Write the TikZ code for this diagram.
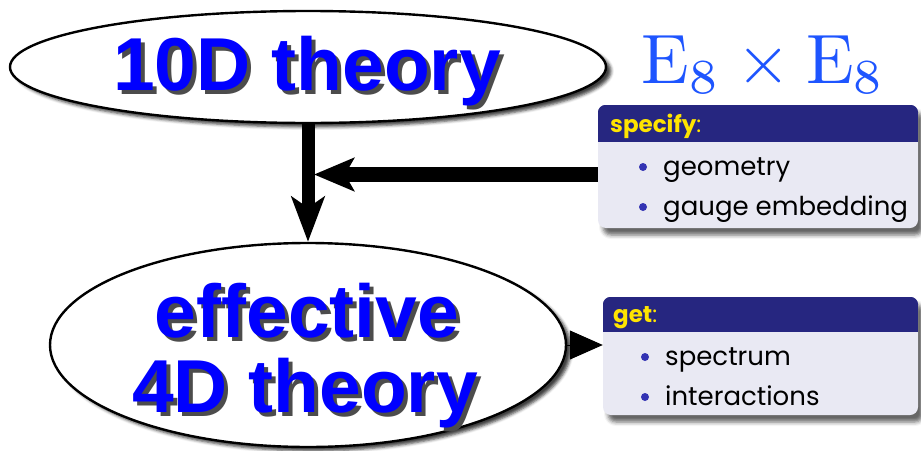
\documentclass[tikz,border=0pt]{standalone}
\usepackage{fontspec}
\newfontfamily\bigfont{Liberation Sans}
\newfontfamily\boxfont{Poppins}
\usetikzlibrary{shapes.geometric,arrows.meta,shadows.blur}
\definecolor{bigblue}{RGB}{0,0,255}
\definecolor{eblue}{RGB}{30,85,255}
\definecolor{headbg}{RGB}{38,38,128}
\definecolor{bodybg}{RGB}{233,233,243}
\definecolor{titley}{RGB}{255,228,0}
\definecolor{bullblue}{RGB}{51,51,179}
\tikzset{
  bubble/.style={ellipse,draw=black,line width=2.4pt,fill=white,inner sep=0pt,
    blur shadow={shadow xshift=5pt,shadow yshift=-4pt,shadow blur radius=3pt,shadow opacity=75}},
  bigtext/.style={anchor=base,inner sep=0pt,text=bigblue,font=\bigfont\bfseries\fontsize{75}{75}\selectfont},
  bigshadow/.style={bigtext,text=black!70},
  blockbody/.style={rectangle,rounded corners=8pt,fill=bodybg,inner sep=0pt,
    blur shadow={shadow xshift=5pt,shadow yshift=-7pt,shadow blur radius=4pt,shadow opacity=60}},
  blocktitle/.style={anchor=base west,inner sep=0pt,text=titley,font=\boxfont\fontsize{23}{23}\selectfont},
  itemtext/.style={anchor=base west,inner sep=0pt,text=black,font=\boxfont\fontsize{26}{26}\selectfont},
  bul/.style={circle,fill=bullblue,inner sep=0pt,minimum size=8pt},
  fatarrow/.style={line width=13pt,-{Stealth[length=45pt,width=33pt,inset=11pt]}},
  fatarrowh/.style={line width=15pt,-{Stealth[length=40pt,width=33pt,inset=9pt]}},
  smallarrow/.style={line width=1pt,-{Triangle[length=33pt,width=29pt]}}
}
\begin{document}
\begin{tikzpicture}[x=1pt,y=-1pt]
\useasboundingbox (0,0) rectangle (921,450);
% ellipses
\node[bubble,minimum width=596pt,minimum height=112pt] (top) at (308,67) {};
\node[bubble,minimum width=516pt,minimum height=204pt] (bot) at (308,345) {};
% texts with shadows
\node[bigshadow] (t10s) at (311,94) {10D theory};
\node[bigtext] (t10) at (307,90) {10D theory};
\node[bigshadow] (effs) at (311,341) {effective};
\node[bigtext] (eff) at (307,337) {effective};
\node[bigshadow] (t4s) at (309,416) {4D theory};
\node[bigtext] (t4) at (305,412) {4D theory};
% E8 x E8
\node[anchor=base west,inner sep=0pt,text=eblue,scale=7,font=\fontsize{10}{12}\selectfont] (e8) at (640,83) {$\mathrm{E}_8\times\mathrm{E}_8$};
% specify block
\node[blockbody,minimum width=320pt,minimum height=123pt] (spec) at (758,166.5) {};
\begin{scope}
  \clip[rounded corners=8pt] (spec.north west) rectangle (spec.south east);
  \fill[headbg] (spec.north west) rectangle ([yshift=-37pt]spec.north east);
\end{scope}
\node[blocktitle] (spect) at (610,132) {\bfseries specify\mdseries:};
\node[bul] (sb1) at (643,167) {};
\node[itemtext] (si1) at (663,175) {geometry};
\node[bul] (sb2) at (643,207) {};
\node[itemtext] (si2) at (663,215) {gauge embedding};
% get block
\node[blockbody,minimum width=315pt,minimum height=118pt] (get) at (760.5,356) {};
\begin{scope}
  \clip[rounded corners=8pt] (get.north west) rectangle (get.south east);
  \fill[headbg] (get.north west) rectangle ([yshift=-35pt]get.north east);
\end{scope}
\node[blocktitle] (gett) at (613,322) {\bfseries get\mdseries:};
\node[bul] (gb1) at (645,357) {};
\node[itemtext] (gi1) at (665,365) {spectrum};
\node[bul] (gb2) at (645,397) {};
\node[itemtext] (gi2) at (665,405) {interactions};
% connectors
\coordinate (join) at (314,174.5);
\draw[fatarrow] (top.south) -- (bot.north);
\draw[fatarrowh] (join -| spec.west) -- (join);
\draw[smallarrow] (bot.east) -- (bot.east -| get.west);
\end{tikzpicture}
\end{document}
